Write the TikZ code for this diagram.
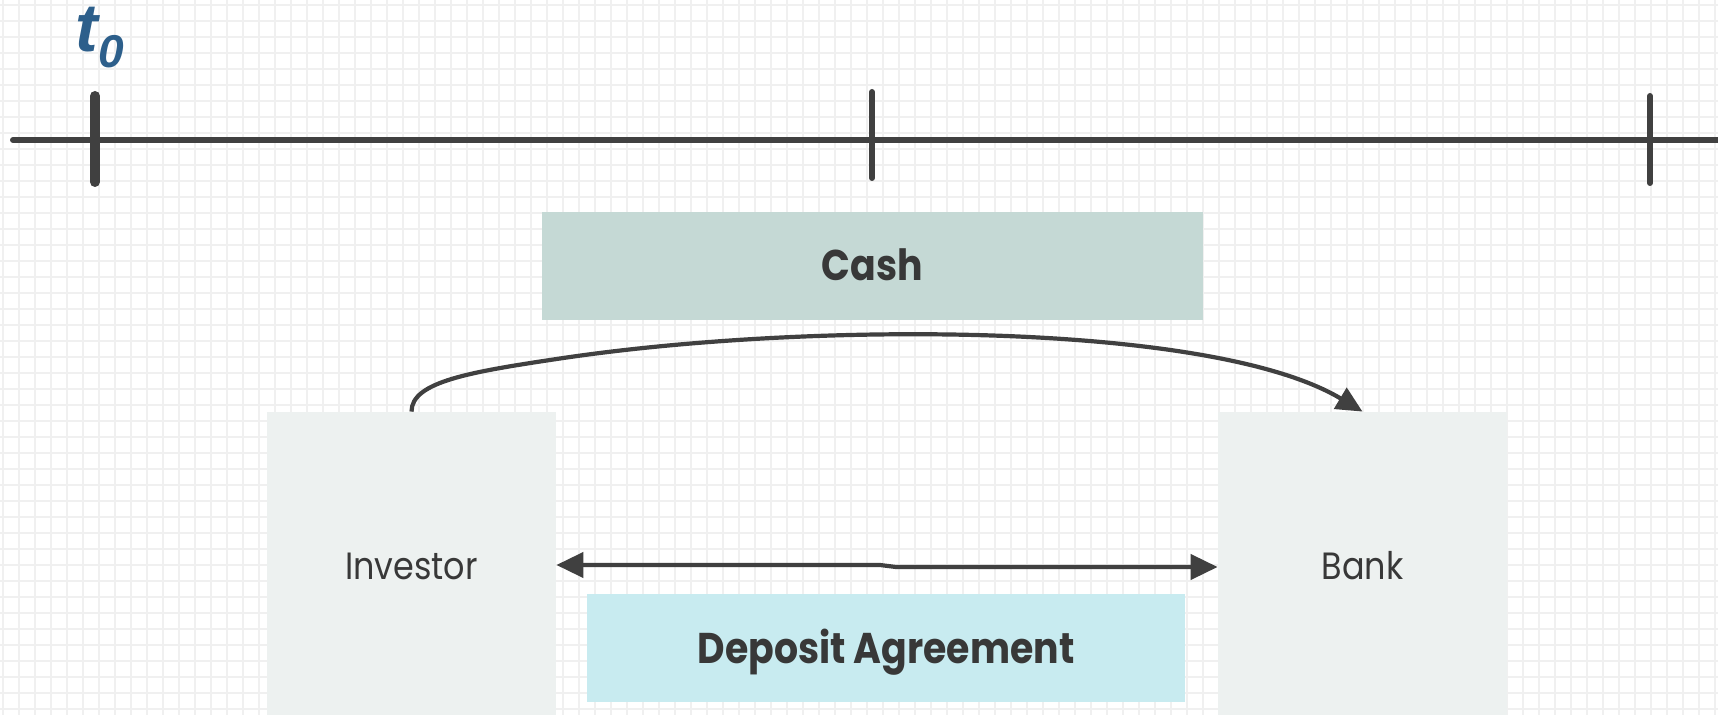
\documentclass[tikz,border=0pt]{standalone}
\usepackage{fontspec}
\newfontfamily\geo[FakeStretch=0.88]{Poppins}
\newfontfamily\lab{Liberation Sans}
\usetikzlibrary{arrows.meta}
\definecolor{ink}{HTML}{404040}
\definecolor{txt}{HTML}{383838}
\definecolor{tcol}{HTML}{2D5F8B}
\definecolor{gridc}{HTML}{F0F0F0}
\definecolor{cashc}{HTML}{C5D9D5}
\definecolor{dealc}{HTML}{C8EBF0}
\definecolor{partyc}{HTML}{EDF1F0}
\tikzset{
  gridline/.style={gridc, line width=0.85pt},
  axis/.style={ink, line width=3pt, line cap=round},
  tick/.style={ink, line width=3pt, line cap=round},
  party/.style={fill=partyc, draw=none, inner sep=0pt,
    minimum width=144.5pt, minimum height=154pt,
    text=txt, font=\geo\fontsize{19}{19}\selectfont,
    text height=13.3pt, text depth=0pt},
  band/.style={draw=none, inner sep=0pt, minimum height=53.75pt,
    text=txt, font=\geo\bfseries\fontsize{21.5}{21.5}\selectfont,
    text height=15pt, text depth=0pt},
  flow/.style={ink, line width=2.1pt,
    -{Triangle[length=13pt,width=12pt]}},
  twoway/.style={ink, line width=2.1pt,
    {Triangle[length=13.5pt,width=12.5pt]}-{Triangle[length=13.5pt,width=12.5pt]}}
}
\begin{document}
\begin{tikzpicture}[x=0.5pt,y=-0.5pt]
\useasboundingbox (0,0) rectangle (1718,715);
\clip (0,0) rectangle (1718,715);
\fill[white] (0,0) rectangle (1718,715);

% background grid
\foreach \k in {0,...,107} \draw[gridline] (2.7+16*\k,0) -- (2.7+16*\k,715);
\foreach \k in {0,...,44} \draw[gridline] (0,4.7+16*\k) -- (1718,4.7+16*\k);

% time axis with ticks
\coordinate (axl) at (13,140);
\coordinate (axr) at (1730,140);
\draw[axis] (axl) -- (axr);
\draw[tick, line width=5pt] (95,96) -- (95,182);
\draw[tick] (872,92) -- (872,178);
\draw[tick] (1650,96) -- (1650,183);
\node[anchor=base west, inner sep=0pt, text=tcol,
      font=\lab\bfseries\itshape\fontsize{34}{34}\selectfont] (t0) at (75,52)
  {t\raisebox{-8pt}{\fontsize{23}{23}\selectfont 0}};

% parties
\node[party] (inv) at (411.5,566) {Investor};
\node[party] (bank) at (1362.5,566) {Bank};

% flows
\node[band, fill=cashc, minimum width=330.5pt] (cash) at (872.5,266) {Cash};
\node[band, fill=dealc, minimum width=299pt] (deal) at (886,648) {Deposit Agreement};

\coordinate (bend) at (560,358.5);
\draw[flow] (inv.north) .. controls +(0,-30) and +(-90,13.5) .. (bend)
  .. controls +(250,-37.5) and +(-150,-90) .. (bank.north);

\coordinate (kinkA) at (880,565);
\coordinate (kinkB) at (896,567);
\draw[twoway] (inv.east |- 0,565) -- (kinkA) -- (kinkB) -- (bank.west |- kinkB);
\end{tikzpicture}
\end{document}
